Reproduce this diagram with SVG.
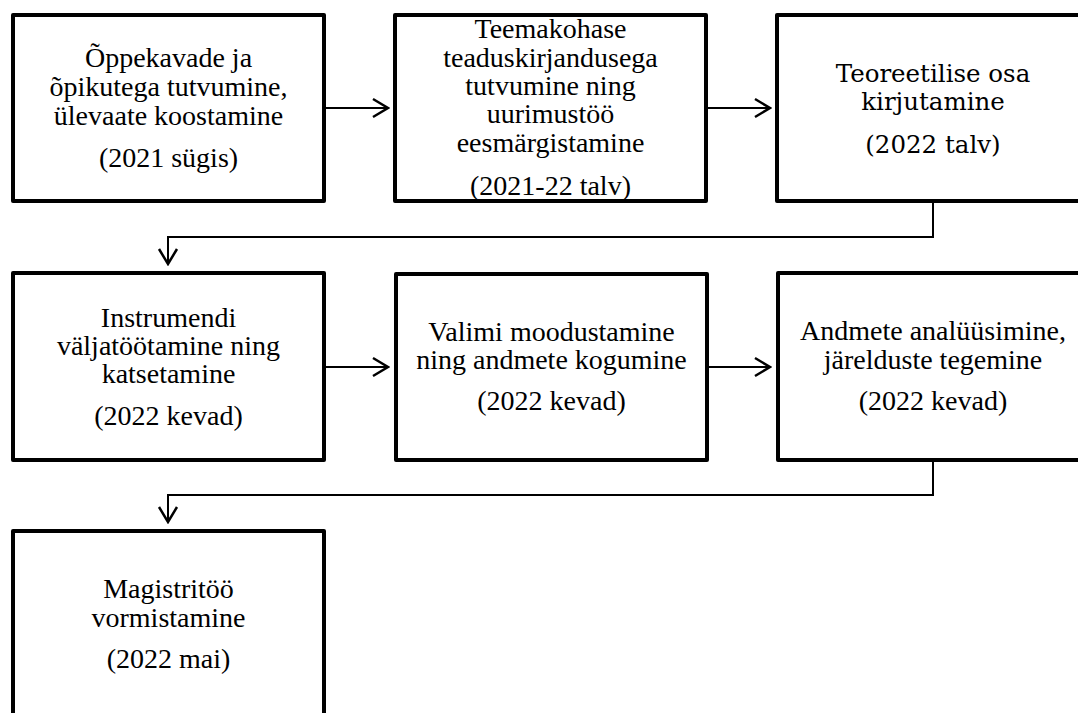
<svg xmlns="http://www.w3.org/2000/svg" width="1078" height="713" viewBox="0 0 1078 713">
<style>
.box{fill:#fff;stroke:#000;stroke-width:4;stroke-linejoin:round}
.t{font-family:"Liberation Serif","Times New Roman",serif;font-size:28px;fill:#000;text-anchor:middle}
.c{font-family:"DejaVu Serif",serif;font-size:24.5px;fill:#000;text-anchor:middle}
.ln{fill:none;stroke:#000;stroke-width:2}
</style>
<defs>
<marker id="arr" markerUnits="userSpaceOnUse" viewBox="-18 -11 20 22" markerWidth="20" markerHeight="22" refX="0" refY="0" orient="auto">
<path d="M-15,-9 L0,0 L-15,9" fill="none" stroke="#000" stroke-width="2.5"/>
</marker>
</defs>
<rect width="1078" height="713" fill="#fff"/>
<g id="connectors">
<path class="ln" d="M326,108 H388" marker-end="url(#arr)"/>
<path class="ln" d="M708,108 H770" marker-end="url(#arr)"/>
<path class="ln" d="M933,203 V237 H168 V264" marker-end="url(#arr)"/>
<path class="ln" d="M326,367 H388" marker-end="url(#arr)"/>
<path class="ln" d="M709,367 H770" marker-end="url(#arr)"/>
<path class="ln" d="M933,462 V495 H168 V522" marker-end="url(#arr)"/>
</g>
<g id="n1">
<rect class="box" x="13" y="15" width="311" height="186"/>
<text class="t" x="168.5" y="67">Õppekavade ja</text>
<text class="t" x="168.5" y="96">õpikutega tutvumine,</text>
<text class="t" x="168.5" y="125">ülevaate koostamine</text>
<text class="t" x="168.5" y="167">(2021 sügis)</text>
</g>
<g id="n2">
<rect class="box" x="395" y="15" width="311" height="186"/>
<text class="t" x="550.5" y="38">Teemakohase</text>
<text class="t" x="550.5" y="67">teaduskirjandusega</text>
<text class="t" x="550.5" y="95">tutvumine ning</text>
<text class="t" x="550.5" y="123">uurimustöö</text>
<text class="t" x="550.5" y="152">eesmärgistamine</text>
<text class="t" x="550.5" y="195">(2021-22 talv)</text>
</g>
<g id="n3">
<rect class="box" x="777" y="15" width="311" height="186"/>
<text class="c" x="933" y="82">Teoreetilise osa</text>
<text class="c" x="933" y="110">kirjutamine</text>
<text class="c" x="933" y="153">(2022 talv)</text>
</g>
<g id="n4">
<rect class="box" x="13" y="273" width="311" height="187"/>
<text class="t" x="168.5" y="327">Instrumendi</text>
<text class="t" x="168.5" y="355">väljatöötamine ning</text>
<text class="t" x="168.5" y="383">katsetamine</text>
<text class="t" x="168.5" y="425">(2022 kevad)</text>
</g>
<g id="n5">
<rect class="box" x="396" y="274" width="311" height="186"/>
<text class="t" x="551.5" y="341">Valimi moodustamine</text>
<text class="t" x="551.5" y="369">ning andmete kogumine</text>
<text class="t" x="551.5" y="410">(2022 kevad)</text>
</g>
<g id="n6">
<rect class="box" x="778" y="273" width="311" height="187"/>
<text class="t" x="933" y="340">Andmete analüüsimine,</text>
<text class="t" x="933" y="369">järelduste tegemine</text>
<text class="t" x="933" y="410">(2022 kevad)</text>
</g>
<g id="n7">
<rect class="box" x="13" y="531" width="311" height="200"/>
<text class="t" x="168.5" y="598">Magistritöö</text>
<text class="t" x="168.5" y="627">vormistamine</text>
<text class="t" x="168.5" y="668">(2022 mai)</text>
</g>
</svg>
